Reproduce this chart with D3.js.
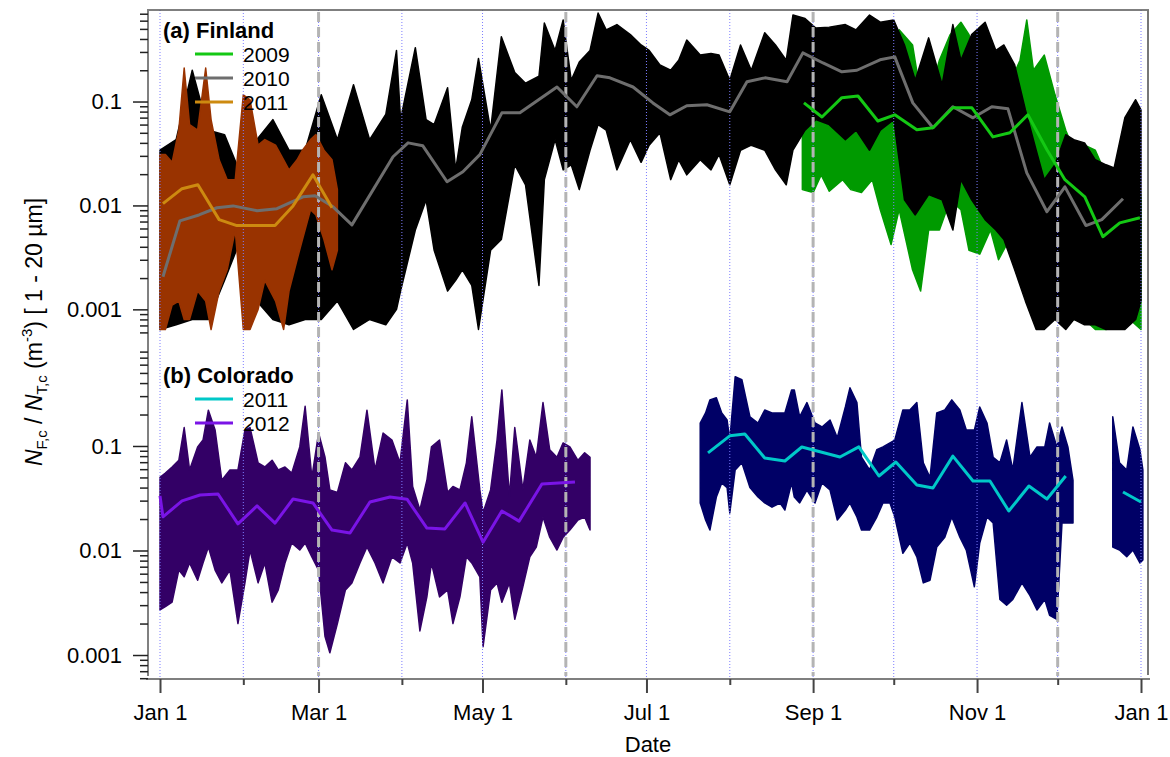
<!DOCTYPE html>
<html>
<head>
<meta charset="utf-8">
<script src="https://cdn.jsdelivr.net/npm/d3@7"></script>
<style>
    body { margin: 0; background: #ffffff; }
    svg text { font-family: "Liberation Sans", Arial, sans-serif; }
</style>
</head>
<body>
<svg id="chart" width="1170" height="757"></svg>
<script>
// day of year (0 = Jan 1), upper and lower edge of the point cloud
let finland2009Cloud = [
    [239, 0.116, 0.0142], [243, 0.093, 0.0133], [246, 0.125, 0.0197], [249, 0.093, 0.0137],
    [254, 0.39, 0.0177], [257, 0.39, 0.0142], [261, 0.26, 0.0133], [265, 0.20, 0.0177],
    [268, 0.13, 0.0091], [272, 0.116, 0.0042], [275, 0.49, 0.0091], [280, 0.35, 0.0024],
    [283, 0.116, 0.0015], [286, 0.104, 0.0058], [290, 0.25, 0.0058], [294, 0.44, 0.0113],
    [298, 0.58, 0.0091], [301, 0.44, 0.0037], [305, 0.16, 0.0034], [309, 0.13, 0.0058],
    [312, 0.20, 0.0030], [316, 0.145, 0.0047], [320, 0.25, 0.0058], [322.5, 0.61, 0.0073],
    [325, 0.2, 0.0047], [329, 0.28, 0.0037], [333, 0.116, 0.0030], [337, 0.053, 0.0012],
    [340, 0.034, 0.0008], [344, 0.038, 0.0008], [348, 0.034, 0.00064], [352, 0.0197, 0.00064],
    [355, 0.0177, 0.0008], [359, 0.0177, 0.00089], [363, 0.043, 0.00071], [365, 0.0113, 0.00064]
];

let finland2010Cloud = [
    [0, 0.034, 0.00064], [6, 0.043, 0.00071], [12, 0.20, 0.0008], [18, 0.053, 0.0008],
    [24, 0.048, 0.0019], [30, 0.020, 0.0047], [36, 0.043, 0.0012], [42, 0.067, 0.0008],
    [48, 0.034, 0.00071], [54, 0.034, 0.0008], [60, 0.116, 0.0008], [66, 0.043, 0.0012],
    [72, 0.145, 0.00064], [78, 0.043, 0.0008], [84, 0.075, 0.00071], [88, 0.31, 0.001],
    [89.5, 0.067, 0.0015], [95, 0.33, 0.0058], [99, 0.067, 0.0113], [102, 0.06, 0.0037],
    [107, 0.136, 0.0015], [110, 0.022, 0.0019], [112.5, 0.057, 0.0024], [116, 0.104, 0.0017],
    [118.5, 0.26, 0.00064], [123, 0.053, 0.0037], [127, 0.42, 0.0047], [132, 0.19, 0.0246],
    [136, 0.15, 0.0158], [141, 0.175, 0.0017], [143, 0.57, 0.0177], [147, 0.31, 0.043],
    [150, 0.61, 0.022], [153, 0.16, 0.0246], [156, 0.24, 0.0142], [160, 0.31, 0.034],
    [163, 0.71, 0.06], [166, 0.49, 0.053], [170, 0.55, 0.022], [175, 0.44, 0.043],
    [179, 0.35, 0.026], [182, 0.31, 0.038], [186, 0.225, 0.05], [190, 0.20, 0.0177],
    [193, 0.25, 0.0275], [196, 0.39, 0.0197], [201, 0.28, 0.0275], [205, 0.29, 0.022],
    [208, 0.28, 0.031], [212, 0.16, 0.0158], [216, 0.35, 0.034], [220, 0.20, 0.038],
    [225, 0.46, 0.034], [229, 0.35, 0.022], [233, 0.25, 0.0158], [235.5, 0.68, 0.034],
    [240, 0.63, 0.053], [244, 0.51, 0.067], [249, 0.52, 0.06], [255, 0.55, 0.043],
    [259, 0.49, 0.053], [264, 0.68, 0.034], [268, 0.58, 0.053], [273, 0.61, 0.067],
    [277, 0.35, 0.0113], [281, 0.16, 0.0081], [286, 0.41, 0.0127], [291, 0.145, 0.0113],
    [295, 0.55, 0.0058], [298, 0.25, 0.0177], [302, 0.44, 0.0113], [307, 0.58, 0.0073],
    [311, 0.31, 0.0058], [314, 0.35, 0.0047], [318, 0.225, 0.0024], [322, 0.083, 0.0012],
    [326, 0.034, 0.00064], [329, 0.0177, 0.00064], [333, 0.0246, 0.0008], [337, 0.048, 0.00064],
    [340, 0.043, 0.0008], [344, 0.040, 0.00071], [348, 0.0275, 0.00071], [352, 0.0246, 0.00064],
    [355, 0.023, 0.00064], [359, 0.07, 0.00064], [363, 0.104, 0.0008], [365, 0.083, 0.0012]
];

let finland2011Cloud = [
    [0, 0.031, 0.00064], [2, 0.031, 0.00064], [4.5, 0.026, 0.0011], [7, 0.053, 0.0012],
    [9, 0.21, 0.0008], [11, 0.06, 0.0008], [14, 0.053, 0.0015], [17, 0.21, 0.0012],
    [19, 0.067, 0.00064], [22, 0.0275, 0.0015], [25, 0.0177, 0.0024], [28, 0.0177, 0.0058],
    [31, 0.116, 0.00064], [33.5, 0.104, 0.00064], [36.5, 0.038, 0.001], [39, 0.043, 0.0019],
    [43, 0.038, 0.0012], [46, 0.0275, 0.00064], [48, 0.022, 0.0015], [51, 0.0275, 0.003],
    [53, 0.034, 0.0047], [56, 0.043, 0.0091], [58, 0.048, 0.0081], [61, 0.034, 0.0047],
    [64, 0.0275, 0.0024], [66, 0.0142, 0.0037]
];

let colorado2011Cloud = [
    [201, 0.166, 0.0285], [203, 0.207, 0.0196], [204.6, 0.276, 0.0157], [207, 0.29, 0.0325],
    [209, 0.207, 0.0443], [211, 0.177, 0.040], [212, 0.114, 0.0229], [214, 0.46, 0.059],
    [216.5, 0.43, 0.069], [219.5, 0.19, 0.040], [222.5, 0.166, 0.0325], [225, 0.221, 0.0285],
    [227.7, 0.207, 0.026], [230.7, 0.207, 0.0285], [232.5, 0.207, 0.0244], [235, 0.344, 0.0443],
    [236, 0.344, 0.0325], [238, 0.19, 0.0285], [240.7, 0.26, 0.0379], [243.7, 0.166, 0.0285],
    [246.3, 0.152, 0.0443], [249.3, 0.177, 0.0379], [252, 0.12, 0.0196], [255, 0.236, 0.0244],
    [256.7, 0.36, 0.0285], [259.3, 0.26, 0.0209], [261, 0.078, 0.0157], [264, 0.059, 0.0157],
    [266.7, 0.092, 0.0209], [269, 0.098, 0.0285], [271.6, 0.107, 0.0285], [273.4, 0.114, 0.0209],
    [276.4, 0.221, 0.0094], [279, 0.221, 0.0118], [281.6, 0.26, 0.0087], [284, 0.069, 0.0049],
    [286.5, 0.05, 0.0052], [289, 0.207, 0.0108], [292, 0.221, 0.0134], [294.6, 0.276, 0.0209],
    [297.6, 0.221, 0.0134], [300, 0.142, 0.0101], [303, 0.142, 0.0045], [305, 0.236, 0.0118],
    [307.7, 0.166, 0.0209], [310, 0.078, 0.0183], [312.5, 0.069, 0.0034], [315, 0.114, 0.003],
    [317.3, 0.059, 0.0034], [320.7, 0.26, 0.0049], [323.7, 0.078, 0.0037], [326.3, 0.098, 0.0027],
    [329.2, 0.098, 0.0034], [331, 0.166, 0.0024], [333.7, 0.098, 0.0022], [335.6, 0.152, 0.0183],
    [337.8, 0.098, 0.0183], [339.7, 0.047, 0.0183]
];

let colorado2011CloudDec = [
    [354.5, 0.19, 0.0108], [357, 0.069, 0.0101], [359.7, 0.059, 0.0087],
    [362, 0.152, 0.0101], [364.6, 0.092, 0.0076], [365.7, 0.059, 0.0081]
];

let colorado2012Cloud = [
    [0, 0.050, 0.0027], [2, 0.055, 0.0029], [4.5, 0.063, 0.0032], [7, 0.073, 0.0065],
    [9, 0.15, 0.0056], [11, 0.059, 0.0076], [14, 0.098, 0.0052], [16, 0.114, 0.0076],
    [18, 0.22, 0.0108], [20.5, 0.142, 0.0065], [23, 0.047, 0.0049], [26, 0.059, 0.0065],
    [29, 0.059, 0.0020], [31.6, 0.142, 0.0049], [33.5, 0.15, 0.0101], [36.5, 0.069, 0.0049],
    [39, 0.063, 0.0076], [41.7, 0.073, 0.0032], [44, 0.059, 0.0042], [46.5, 0.063, 0.0076],
    [49, 0.055, 0.0118], [52, 0.098, 0.0101], [54, 0.24, 0.0118], [56.5, 0.050, 0.0087],
    [59, 0.133, 0.0065], [61.4, 0.078, 0.0015], [63.2, 0.038, 0.00105], [66, 0.036, 0.0020],
    [69, 0.069, 0.0042], [71.4, 0.059, 0.0049], [74.4, 0.078, 0.0076], [77, 0.22, 0.0108],
    [80, 0.059, 0.0076], [83, 0.133, 0.0049], [86.3, 0.114, 0.0087], [89.3, 0.069, 0.0076],
    [92, 0.276, 0.0118], [94, 0.041, 0.0076], [96.7, 0.0244, 0.0017], [99.3, 0.047, 0.0036],
    [101, 0.098, 0.0076], [104, 0.114, 0.0036], [107, 0.036, 0.0042], [109, 0.041, 0.0020],
    [111.6, 0.038, 0.0036], [114, 0.069, 0.0087], [116, 0.19, 0.0076], [119, 0.038, 0.0056],
    [120.2, 0.023, 0.0012], [123, 0.038, 0.0042], [125.4, 0.114, 0.0049], [127.2, 0.344, 0.0032],
    [130, 0.033, 0.0049], [132, 0.15, 0.0022], [135, 0.038, 0.0045], [137.6, 0.114, 0.0087],
    [140, 0.078, 0.0108], [142.5, 0.26, 0.0209], [145, 0.092, 0.0134], [147.7, 0.078, 0.0101],
    [150, 0.107, 0.0134], [152.5, 0.098, 0.0157], [155.5, 0.073, 0.0196], [158, 0.086, 0.0209],
    [160, 0.078, 0.0157]
];

// weekly medians: day of year, value
let finland2009Median = [
    [239.6, 0.097], [246.3, 0.071], [253.7, 0.109], [259.7, 0.113], [267.1, 0.065],
    [273.4, 0.0745], [281.6, 0.0534], [287.6, 0.056], [295, 0.087], [302.1, 0.087],
    [309.9, 0.0457], [316.2, 0.050], [322.9, 0.0745], [330, 0.0344], [336.7, 0.0177],
    [344.1, 0.0121], [350.8, 0.005], [357.1, 0.0068], [364.6, 0.0076]
];

let finland2010Median = [
    [1.1, 0.00206], [7.4, 0.0071], [14.5, 0.0081], [21.2, 0.0095], [27.2, 0.0099],
    [36.1, 0.0089], [43.5, 0.0093], [53.2, 0.0121], [57.7, 0.0124], [64.4, 0.0097],
    [71.4, 0.0065], [86.7, 0.0294], [92.3, 0.040], [97.8, 0.0375], [106.8, 0.0169],
    [112.7, 0.0211], [119, 0.0308], [127.2, 0.0778], [133.9, 0.078], [147.7, 0.138],
    [155.1, 0.089], [162.6, 0.177], [167.4, 0.169], [176, 0.138], [183.4, 0.097],
    [189.7, 0.0745], [196, 0.091], [203.5, 0.093], [212, 0.0796], [218.4, 0.155],
    [225.1, 0.169], [233.3, 0.155], [239.2, 0.294], [246.7, 0.235], [253.7, 0.193],
    [259.3, 0.20], [267.9, 0.252], [273.4, 0.269], [280.1, 0.097], [287.6, 0.056],
    [295, 0.089], [302.5, 0.0697], [309.5, 0.089], [315.5, 0.085], [322.5, 0.0206],
    [330, 0.0087], [336.7, 0.0151], [344.5, 0.0064], [350.4, 0.0073], [358.3, 0.0116]
];

let finland2011Median = [
    [1.1, 0.0104], [8.2, 0.0145], [14.1, 0.0158], [22, 0.0073], [28.6, 0.0064],
    [36.1, 0.0064], [42.8, 0.0064], [49.5, 0.0099], [56.9, 0.0197], [64, 0.0095]
];

let colorado2011Median = [
    [203.9, 0.0858], [212, 0.125], [217.6, 0.130], [225, 0.0768], [232.5, 0.0718],
    [238.8, 0.0978], [253, 0.0785], [260, 0.098], [267.5, 0.0516], [273.8, 0.0703],
    [281.6, 0.0424], [287.6, 0.0396], [295, 0.080], [302.5, 0.0462], [308.8, 0.0462],
    [315.8, 0.0239], [323.3, 0.0414], [330, 0.0311], [337, 0.0516]
];

let colorado2011MedianDec = [[358.3, 0.0363], [365, 0.0291]];

let colorado2012Median = [
    [0, 0.0333], [1.1, 0.021], [8.2, 0.0298], [14.9, 0.034], [21.6, 0.0347],
    [29, 0.018], [36.1, 0.0267], [42.8, 0.0183], [49.5, 0.0311], [56.9, 0.0285],
    [64, 0.0157], [70.7, 0.0147], [78.1, 0.0291], [85.6, 0.0325], [91.9, 0.031],
    [99.3, 0.0164], [106, 0.0161], [113.5, 0.0285], [120.2, 0.012], [127.2, 0.0239],
    [133.6, 0.0191], [142.1, 0.0433], [154.4, 0.0453]
];

let yTickValues = [0.001, 0.01, 0.1];
let seasonMonths = [2, 5, 8, 11];   // Mar, Jun, Sep, Dec

let svg = d3.select("#chart");
let plotLeft = 148, plotRight = 1148, plotTop = 10, plotBottom = 679;

function dayToDate(d) {
    return new Date(Date.UTC(2011, 0, 1) + d * 864e5);
}

let x = d3.scaleUtc()
    .domain([dayToDate(0), dayToDate(365)])
    .range([160, 1141]);

let yA = d3.scaleLog().domain([0.0006, 0.76]).range([332.4, plotTop]);
let yB = d3.scaleLog().domain([0.0006, 0.8]).range([678.2, 351.6]);

let monthStarts = d3.utcMonth.range(new Date(Date.UTC(2011, 0, 1)), new Date(Date.UTC(2012, 0, 2)));

function drawCloud(rows, yScale, colour) {
    let area = d3.area()
        .x(d => x(dayToDate(d[0])))
        .y0(d => yScale(d[2]))
        .y1(d => yScale(d[1]));
    svg.append('path')
        .datum(rows)
        .attr('d', area)
        .attr('fill', colour)
        .attr('stroke', colour)
        .attr('stroke-width', 1.5)
        .attr('stroke-linejoin', 'round');
}

function drawMedian(rows, yScale, colour) {
    let line = d3.line()
        .x(d => x(dayToDate(d[0])))
        .y(d => yScale(d[1]));
    svg.append('path')
        .datum(rows)
        .attr('d', line)
        .attr('fill', 'none')
        .attr('stroke', colour)
        .attr('stroke-width', 3)
        .attr('stroke-linejoin', 'round');
}

//clouds
drawCloud(finland2009Cloud, yA, '#009a00');
drawCloud(finland2010Cloud, yA, '#000000');
drawCloud(finland2011Cloud, yA, '#993300');
drawCloud(colorado2012Cloud, yB, '#330066');
drawCloud(colorado2011Cloud, yB, '#000066');
drawCloud(colorado2011CloudDec, yB, '#000066');

//month lines
svg.append('g').selectAll('line')
    .data(monthStarts)
    .enter()
    .append('line')
    .attr('x1', d => x(d))
    .attr('x2', d => x(d))
    .attr('y1', plotTop)
    .attr('y2', plotBottom)
    .attr('stroke', '#7d7dff')
    .attr('stroke-width', 1)
    .attr('stroke-dasharray', '1,2');

//season lines
svg.append('g').selectAll('line')
    .data(seasonMonths)
    .enter()
    .append('line')
    .attr('x1', d => x(new Date(Date.UTC(2011, d, 1))))
    .attr('x2', d => x(new Date(Date.UTC(2011, d, 1))))
    .attr('y1', plotTop + 2)
    .attr('y2', plotBottom - 3)
    .attr('stroke', '#b4b4b4')
    .attr('stroke-width', 3)
    .attr('stroke-dasharray', '10,5');

//medians
drawMedian(finland2010Median, yA, '#6e6e6e');
drawMedian(finland2009Median, yA, '#14c814');
drawMedian(finland2011Median, yA, '#cd8a10');
drawMedian(colorado2012Median, yB, '#7a14e6');
drawMedian(colorado2011Median, yB, '#00c8c8');
drawMedian(colorado2011MedianDec, yB, '#00c8c8');

//frame
svg.append('line').attr('x1', plotLeft - 1).attr('x2', plotRight + 1).attr('y1', plotTop).attr('y2', plotTop)
    .attr('stroke', '#555').attr('stroke-width', 1.5);
svg.append('line').attr('x1', plotRight).attr('x2', plotRight).attr('y1', plotTop).attr('y2', plotBottom - 4)
    .attr('stroke', '#777').attr('stroke-width', 2);
svg.append('line').attr('x1', plotLeft).attr('x2', plotLeft).attr('y1', plotTop).attr('y2', plotBottom - 3)
    .attr('stroke', '#808080').attr('stroke-width', 2);
svg.append('line').attr('x1', plotLeft - 2).attr('x2', plotRight + 2).attr('y1', plotBottom).attr('y2', plotBottom)
    .attr('stroke', '#555').attr('stroke-width', 1.5);

//y axes
function minorTicks(scale) {
    let [lo, hi] = scale.domain();
    let vals = [];
    for (let e = -4; e <= 0; e++) {
        for (let k = 2; k <= 9; k++) {
            let v = k * Math.pow(10, e);
            if (v >= lo && v <= hi) vals.push(v);
        }
    }
    return vals;
}

function yAxis(scale) {
    let g = svg.append('g')
        .attr('transform', `translate(${plotLeft}, 0)`)
        .style('font-size', '22px');
    g.call(d3.axisLeft(scale)
        .tickValues(yTickValues)
        .tickSize(15)
        .tickPadding(11)
        .tickFormat(d3.format('')));
    g.append('g').call(d3.axisLeft(scale)
        .tickValues(minorTicks(scale))
        .tickSize(8)
        .tickFormat(''));
    g.selectAll('.domain').remove();
    g.selectAll('line').attr('stroke', '#222').attr('stroke-width', 1.5);
    g.selectAll('text').attr('fill', '#000').style('font-family', '"Liberation Sans", Arial, sans-serif');
}
yAxis(yA);
yAxis(yB);

//x axis
let xg = svg.append('g')
    .attr('transform', `translate(0, ${plotBottom})`)
    .style('font-size', '22px');
xg.call(d3.axisBottom(x)
    .tickValues(monthStarts.filter((d, i) => i % 2 == 0))
    .tickSize(14)
    .tickPadding(11)
    .tickFormat(d3.utcFormat('%b %-d')));
xg.append('g').call(d3.axisBottom(x)
    .tickValues(monthStarts.filter((d, i) => i % 2 == 1))
    .tickSize(6)
    .tickFormat(''));
xg.selectAll('.domain').remove();
xg.selectAll('line').attr('stroke', '#444').attr('stroke-width', 2);
xg.selectAll('text').attr('fill', '#000').style('font-family', '"Liberation Sans", Arial, sans-serif');

//labels
svg.append('text')
    .attr('x', 648)
    .attr('y', 752)
    .attr('text-anchor', 'middle')
    .style('font-size', '22px')
    .text('Date');

let yl = svg.append('text')
    .attr('transform', 'translate(42, 332) rotate(-90)')
    .attr('text-anchor', 'middle')
    .style('font-size', '23px');
yl.append('tspan').style('font-style', 'italic').text('N');
yl.append('tspan').attr('dy', 5).style('font-size', '15px').text('F,c');
yl.append('tspan').attr('dy', -5).text(' / ');
yl.append('tspan').style('font-style', 'italic').text('N');
yl.append('tspan').attr('dy', 5).style('font-size', '15px').text('T,c');
yl.append('tspan').attr('dy', -5).text(' (m');
yl.append('tspan').attr('dy', -10).style('font-size', '15px').text('-3');
yl.append('tspan').attr('dy', 10).text(') [ 1 - 20 µm]');

//legends
function legend(title, titleY, entries) {
    svg.append('text')
        .attr('x', 163)
        .attr('y', titleY)
        .style('font-size', '22px')
        .style('font-weight', 'bold')
        .text(title);
    entries.forEach(function(e, i) {
        let ly = titleY + 16 + i * 24;
        svg.append('line')
            .attr('x1', 195).attr('x2', 233)
            .attr('y1', ly).attr('y2', ly)
            .attr('stroke', e[1])
            .attr('stroke-width', 3);
        svg.append('text')
            .attr('x', 243)
            .attr('y', ly + 8)
            .style('font-size', '21px')
            .text(e[0]);
    });
}
legend('(a) Finland', 38, [['2009', '#14c814'], ['2010', '#6e6e6e'], ['2011', '#cd8a10']]);
legend('(b) Colorado', 383, [['2011', '#00c8c8'], ['2012', '#7a14e6']]);
</script>
</body>
</html>
